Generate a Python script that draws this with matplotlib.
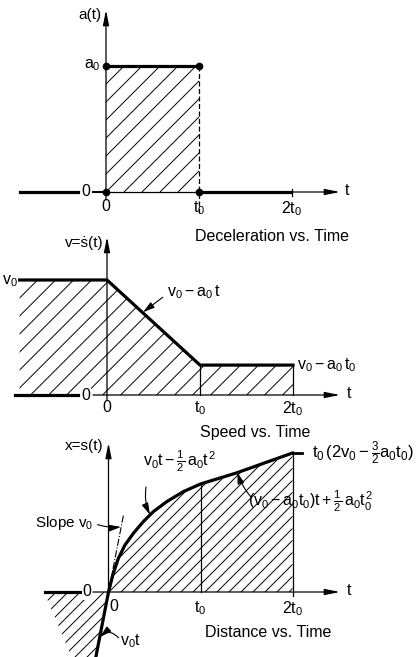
import matplotlib
matplotlib.use('Agg')
import matplotlib.pyplot as plt
from matplotlib.patches import Polygon
from matplotlib.collections import LineCollection

plt.rcParams['font.family'] = ['Liberation Sans', 'DejaVu Sans']
plt.rcParams['mathtext.fontset'] = 'custom'
plt.rcParams['mathtext.rm'] = 'Liberation Sans'
plt.rcParams['mathtext.it'] = 'Liberation Sans'
plt.rcParams['mathtext.bf'] = 'Liberation Sans:bold'
plt.rcParams['mathtext.sf'] = 'Liberation Sans'

# time in units of t0
tick_t = [0.0, 1.0, 2.0]
tick_labels = ['0', r'$t_0$', r'$2t_0$']
titles = ['Deceleration vs. Time', 'Speed vs. Time', 'Distance vs. Time']

# deceleration: a0 on 0 < t < t0
A0 = 1.0

# speed (v0 = 1)
speed_t = [-0.94, 0.0, 1.0, 2.0]
speed_v = [1.0, 1.0, 0.26, 0.26]

# distance (scaled so that s(2t0) = 1)
curve_t = [0.0, 0.052, 0.107, 0.179, 0.27, 0.378, 0.487, 0.633, 0.813, 1.0, 1.393, 2.0]
curve_x = [0.0, 0.135, 0.242, 0.338, 0.422, 0.506, 0.578, 0.650, 0.722, 0.777, 0.857, 1.0]
SLOPE_V0 = 3.4

W, H = 419, 657
THICK = 2.3
THIN = 0.9
FS = 11
FS_CAP = 11.5
ZERO_BOX = dict(fc='white', ec='none', pad=0.6)

fig = plt.figure(figsize=(W / 100, H / 100), dpi=100)


def panel(ox, oy, sx, sy):
    # full-figure axes, origin at pixel (ox, oy), sx/sy pixels per unit
    ax = fig.add_axes([0, 0, 1, 1])
    ax.set_xlim(-ox / sx, (W - ox) / sx)
    ax.set_ylim((oy - H) / sy, oy / sy)
    ax.axis('off')
    ax.sx, ax.sy = sx, sy
    return ax


def hatch(ax, verts, step):
    poly = Polygon(verts, closed=True, fill=False, lw=0)
    ax.add_patch(poly)
    k = ax.sy / ax.sx
    ys = [v[1] for v in verts]
    y0, y1 = min(ys), max(ys)
    cs = [x - y * k for x, y in verts]
    c = min(cs)
    segs = []
    while c < max(cs):
        segs.append([(c + y0 * k, y0), (c + y1 * k, y1)])
        c += step / ax.sx
    lc = LineCollection(segs, colors='k', linewidths=0.7)
    lc.set_clip_path(poly)
    ax.add_collection(lc)


def arrow(ax, x0, y0, x1, y1):
    ax.annotate('', xy=(x1, y1), xytext=(x0, y0),
                arrowprops=dict(arrowstyle='-|>,head_length=0.9,head_width=0.18',
                                lw=THIN, color='k', shrinkA=0, shrinkB=0))


def pointer(ax, xy, xytext, rad=0.0):
    ax.annotate('', xy=xy, xytext=xytext,
                arrowprops=dict(arrowstyle='-|>,head_length=0.7,head_width=0.2',
                                lw=0.8, color='k', shrinkA=0, shrinkB=0,
                                connectionstyle='arc3,rad=%s' % rad))


def t_labels(ax, y, dx0=0.0):
    for t, lab in zip(tick_t, tick_labels):
        ax.text(t + (dx0 if t == 0 else 0), y, lab, ha='center', va='top', fontsize=FS + 0.5)


# ---------------- Deceleration vs. Time ----------------
ax1 = panel(106, 192, 93, 126)
hatch(ax1, [(0, 0), (1, 0), (1, A0), (0, A0)], 18)
ax1.plot([-0.925, -0.30], [0, 0], color='k', lw=THICK)
ax1.plot([-0.14, 0], [0, 0], color='k', lw=1.5)
ax1.plot([0, 1], [0, 0], color='k', lw=THIN)
ax1.plot([1, 1.98], [0, 0], color='k', lw=THICK)
arrow(ax1, 1.98, 0, 2.516, 0)
arrow(ax1, 0, -0.063, 0, 1.444)
ax1.plot([0, 1], [A0, A0], color='k', lw=THICK)
ax1.plot([1, 1], [A0, -0.167], color='k', lw=THIN, ls=(0, (4, 2)))
ax1.plot([2, 2], [-0.03, 0.02], color='k', lw=THIN)
ax1.plot([0, 1, 0, 1], [0, 0, A0, A0], 'o', color='k', ms=4.5)
ax1.text(-0.215, 0, '0', ha='center', va='center', fontsize=FS + 0.5, bbox=ZERO_BOX)
ax1.text(2.59, 0.01, 't', ha='center', va='center', fontsize=FS + 0.5)
ax1.text(-0.05, 1.405, 'a(t)', ha='right', va='center', fontsize=FS)
ax1.text(-0.06, A0 + 0.01, r'$a_0$', ha='right', va='center', fontsize=FS + 0.5)
t_labels(ax1, -0.055)
ax1.text(1.785, -0.357, titles[0], ha='center', va='center', fontsize=FS_CAP)

# ---------------- Speed vs. Time ----------------
ax2 = panel(107, 395, 93, 115)
hatch(ax2, [(speed_t[0], 0)] + list(zip(speed_t, speed_v)) + [(2, 0)], 18)
ax2.plot(speed_t, speed_v, color='k', lw=THICK)
ax2.plot([1, 1], [speed_v[2], 0], color='k', lw=THIN)
ax2.plot([2, 2], [speed_v[3], 0], color='k', lw=THIN)
ax2.plot([-0.99, -0.31], [0, 0], color='k', lw=THICK)
arrow(ax2, -0.15, 0, 2.505, 0)
arrow(ax2, 0, -0.043, 0, 1.374)
ax2.text(-0.226, 0, '0', ha='center', va='center', fontsize=FS + 0.5, bbox=ZERO_BOX)
ax2.text(2.6, 0.01, 't', ha='center', va='center', fontsize=FS + 0.5)
ax2.text(-0.04, 1.322, 'v=ṡ(t)', ha='right', va='center', fontsize=FS)
ax2.text(-1.13, speed_v[0] - 0.01, r'$v_0$', ha='left', va='center', fontsize=FS + 0.5)
ax2.text(0.645, 0.89, r'$v_0 - a_0\,t$', ha='left', va='center', fontsize=FS + 0.5)
pointer(ax2, (0.387, 0.72), (0.60, 0.85))
ax2.text(2.043, speed_v[3] + 0.0, r'$v_0 - a_0\,t_0$', ha='left', va='center', fontsize=FS + 0.5)
t_labels(ax2, -0.04)
ax2.text(1.59, -0.33, titles[1], ha='center', va='center', fontsize=FS_CAP)

# ---------------- Distance vs. Time ----------------
ax3 = panel(108.5, 592, 92, 139)
x_t0 = curve_x[curve_t.index(1.0)]
x_2t0 = curve_x[-1]
hatch(ax3, list(zip(curve_t, curve_x)) + [(2.0, 0.0)], 12)
hatch(ax3, [(-0.70, 0), (0, 0), (-0.5 / SLOPE_V0, -0.5), (-0.38, -0.5)], 12)
ax3.plot(curve_t, curve_x, color='k', lw=THICK)
ax3.plot([0, 0.165], [0, 0.165 * SLOPE_V0], color='k', lw=0.8, ls='-.')
ax3.plot([-0.5 / SLOPE_V0, 0], [-0.5, 0], color='k', lw=THICK)
ax3.plot([1, 1], [x_t0, 0], color='k', lw=THIN)
ax3.plot([2, 2], [x_2t0, -0.03], color='k', lw=THIN)
ax3.plot([2.0, 2.1], [x_2t0, x_2t0], color='k', lw=2)
ax3.plot([-0.69, -0.31], [0, 0], color='k', lw=THICK)
arrow(ax3, -0.168, 0, 2.516, 0)
arrow(ax3, 0, -0.03, 0, 1.072)
ax3.text(-0.234, 0, '0', ha='center', va='center', fontsize=FS + 0.5, bbox=ZERO_BOX)
ax3.text(2.61, 0.01, 't', ha='center', va='center', fontsize=FS + 0.5)
ax3.text(-0.05, 1.05, 'x=s(t)', ha='right', va='center', fontsize=FS)
ax3.text(2.212, x_2t0, r'$t_0\,(2v_0 - \frac{3}{2}a_0t_0)$', ha='left', va='center', fontsize=FS + 1)
ax3.text(0.375, 0.94, r'$v_0t - \frac{1}{2}\,a_0t^2$', ha='left', va='center', fontsize=FS + 0.5)
pointer(ax3, (0.451, 0.556), (0.408, 0.755), rad=0.15)
ax3.text(-0.80, 0.50, r'Slope $v_0$', ha='left', va='center', fontsize=FS)
pointer(ax3, (0.135, 0.468), (-0.12, 0.485), rad=0.1)
ax3.text(1.516, 0.655, r'$(v_0 - a_0t_0)t + \frac{1}{2}\,a_0t_0^2$', ha='left', va='center', fontsize=FS + 0.5)
pointer(ax3, (1.40, 0.862), (1.549, 0.683), rad=-0.1)
ax3.text(0.125, -0.355, r'$v_0t$', ha='left', va='center', fontsize=FS + 0.5)
pointer(ax3, (-0.092, -0.324), (0.11, -0.33), rad=0.5)
t_labels(ax3, -0.05, dx0=0.06)
ax3.text(1.734, -0.288, titles[2], ha='center', va='center', fontsize=FS_CAP)

fig.savefig('out.png', dpi=100)
